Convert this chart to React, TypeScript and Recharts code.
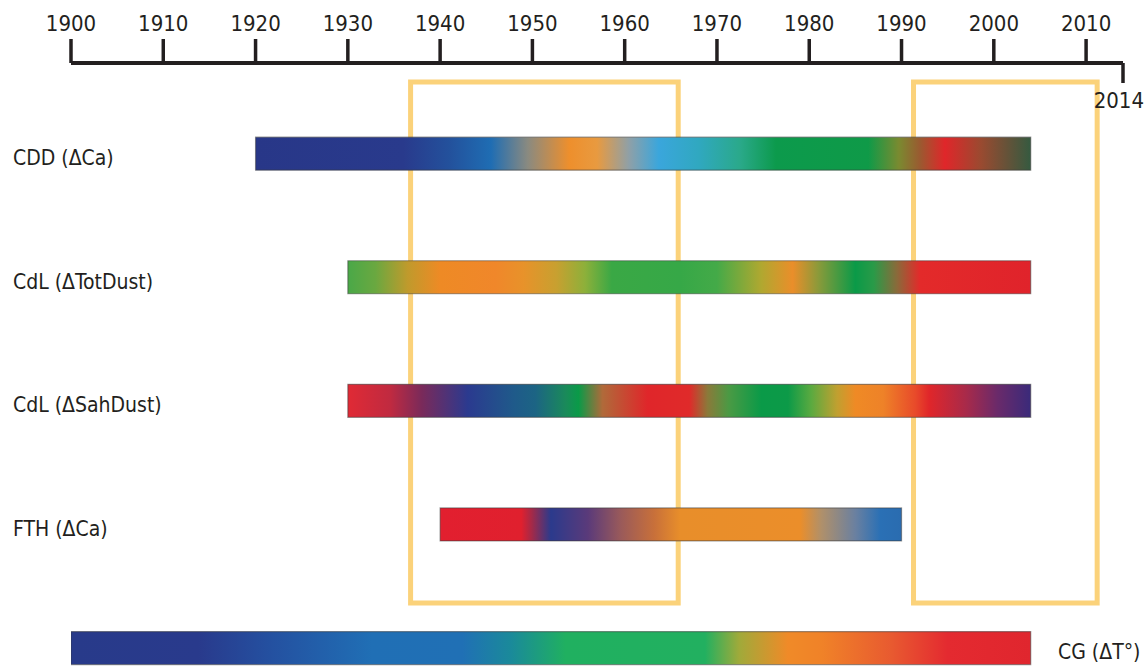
import React from 'react';
import { ComposedChart, Bar, Cell, XAxis, YAxis, ReferenceArea } from 'recharts';

// records, top to bottom
const rowNames = ['CDD (ΔCa)', 'CdL (ΔTotDust)', 'CdL (ΔSahDust)', 'FTH (ΔCa)', 'CG (ΔT°)'];
const startYears = [1920, 1930, 1930, 1940, 1900];
const endYears = [2004, 2004, 2004, 1990, 2004];

const yearTicks = [1900, 1910, 1920, 1930, 1940, 1950, 1960, 1970, 1980, 1990, 2000, 2010, 2014];

// highlighted periods (yellow frames)
const periods: [number, number][] = [
  [1936.8, 1965.8],
  [1991.3, 2011.2],
];

// colour along each record: [year, colour]
const cddStops: [number, string][] = [
  [1920, '#283788'], [1936, '#293a8c'], [1941, '#23519c'], [1945.5, '#1f6db3'],
  [1949.5, '#8a8a80'], [1954, '#ee8f2c'], [1957, '#e89a40'], [1960.5, '#8ea0a8'],
  [1963.7, '#3aa6dc'], [1968, '#30a8c0'], [1972.5, '#2aa98a'], [1976.4, '#0c9a4c'],
  [1986.4, '#0f9a48'], [1989.7, '#7a8a30'], [1992, '#9a5a30'], [1994.7, '#e0262a'],
  [1998.6, '#9a4a30'], [2004, '#355a40'],
];
const totDustStops: [number, string][] = [
  [1930, '#4aa848'], [1933, '#6aa840'], [1936.5, '#c09a2c'], [1940, '#ee8a25'],
  [1946, '#f0872a'], [1949, '#e8922a'], [1952.6, '#c8a030'], [1955.7, '#8db03a'],
  [1958.6, '#3aa845'], [1966, '#36a847'], [1970, '#44aa48'], [1974.8, '#b0a830'],
  [1978.2, '#ea8e2a'], [1981, '#8a9a3a'], [1985, '#0a9a48'], [1987, '#2a9a48'],
  [1989.5, '#8a6a3a'], [1992, '#e32a2a'], [2004, '#e0232b'],
];
const sahDustStops: [number, string][] = [
  [1930, '#e02a35'], [1934.6, '#c02a40'], [1938, '#7a2a5a'], [1943, '#2b3a8f'],
  [1948, '#1f5a8a'], [1950.3, '#1c6484'], [1953.6, '#1a8a5a'], [1955, '#0a9a48'],
  [1957.6, '#b06a3a'], [1962.5, '#e0262a'], [1967, '#e02a2a'], [1969, '#8a7a3a'],
  [1971.3, '#4a9a44'], [1974.8, '#0a9a48'], [1977.7, '#0c9a48'], [1980.2, '#5aaa40'],
  [1983, '#c0a030'], [1985, '#ef8a25'], [1988, '#ee8228'], [1991.5, '#e84a2a'],
  [1993, '#e0262a'], [1997, '#a82a4a'], [2000.4, '#6a2a6a'], [2004, '#3a2a7a'],
];
const fthStops: [number, string][] = [
  [1940, '#e21f2f'], [1948.8, '#e0202e'], [1950, '#a02a4a'], [1952, '#2b3a8c'],
  [1956, '#5a3a7a'], [1959.6, '#9a5a5a'], [1963.2, '#c8703a'], [1966, '#e88e2a'],
  [1979, '#eb8e2a'], [1981.3, '#b0906a'], [1985, '#6a80a0'], [1987.7, '#2a70b5'],
  [1990, '#2a6cb0'],
];
const cgStops: [number, string][] = [
  [1900, '#283a8a'], [1913.8, '#293a8c'], [1921.5, '#2450a0'], [1932.6, '#206fb5'],
  [1942.4, '#2070b5'], [1947.7, '#1a8a9a'], [1953.6, '#20b060'], [1968.7, '#22b060'],
  [1972.4, '#a0aa3a'], [1977.7, '#f08a28'], [1981.4, '#f08228'], [1988.9, '#e85a30'],
  [1995, '#e42a30'], [2004, '#e0262e'],
];

const rowStops = [cddStops, totDustStops, sahDustStops, fthStops, cgStops];

const data = rowNames.map((name, i) => ({
  name,
  row: i,
  range: [startYears[i], endYears[i]],
}));

const FONT = "'DejaVu Sans Condensed', 'Liberation Sans Narrow', sans-serif";
const INK = '#231f20';

const YearTick = (props: any) => {
  const { x, y, payload } = props;
  const v = payload.value;
  if (v === 2014) {
    return (
      <g>
        <line x1={x} x2={x} y1={y} y2={y + 20} stroke={INK} strokeWidth={3.5} />
        <text x={1144} y={y + 45} textAnchor="end" fontSize={22} fontFamily={FONT} fill={INK}>
          {v}
        </text>
      </g>
    );
  }
  return (
    <g>
      <line x1={x} x2={x} y1={y} y2={y - 24} stroke={INK} strokeWidth={3.5} />
      <text x={x} y={y - 32} textAnchor="middle" fontSize={22} fontFamily={FONT} fill={INK}>
        {v}
      </text>
    </g>
  );
};

const RowLabel = (props: any) => {
  const { y, payload } = props;
  const i = payload.value;
  const last = i === rowNames.length - 1;
  return (
    <text
      x={last ? 1058 : 13}
      y={y + 4}
      textAnchor="start"
      dominantBaseline="central"
      fontSize={21}
      fontFamily={FONT}
      fill={INK}
    >
      {rowNames[i]}
    </text>
  );
};

export default function App() {
  return (
    <div style={{ position: 'absolute', left: 0, top: 0, background: '#fff' }}>
      <ComposedChart
        width={1145}
        height={668}
        data={data}
        layout="vertical"
        margin={{ top: 0, right: 22, bottom: 0, left: 70 }}
      >
        <defs>
          {rowStops.map((stops, i) => (
            <linearGradient key={i} id={`grad-${i}`} x1="0" y1="0" x2="1" y2="0">
              {stops.map(([yr, c], k) => (
                <stop
                  key={k}
                  offset={(yr - startYears[i]) / (endYears[i] - startYears[i])}
                  stopColor={c}
                />
              ))}
            </linearGradient>
          ))}
        </defs>
        <XAxis
          type="number"
          orientation="top"
          domain={[1900, 2014]}
          ticks={yearTicks}
          interval={0}
          height={63}
          tickSize={0}
          tickMargin={0}
          tickLine={false}
          axisLine={{ stroke: INK, strokeWidth: 4 }}
          tick={<YearTick />}
          allowDataOverflow
        />
        <YAxis
          type="number"
          dataKey="row"
          domain={[-0.736, 4.159]}
          ticks={[0, 1, 2, 3, 4]}
          width={1}
          axisLine={false}
          tickLine={false}
          tick={<RowLabel />}
          interval={0}
          allowDataOverflow
        />
        <Bar
          dataKey="range"
          barSize={33}
          isAnimationActive={false}
          stroke="#3a3a3a"
          strokeOpacity={0.5}
          strokeWidth={1.2}
        >
          {data.map((d, i) => (
            <Cell key={d.name} fill={`url(#grad-${i})`} />
          ))}
        </Bar>
        {periods.map(([a, b], i) => (
          <ReferenceArea
            key={i}
            x1={a}
            x2={b}
            y1={-0.583}
            y2={3.633}
            fill="none"
            fillOpacity={0}
            stroke="#fbd27a"
            strokeWidth={5}
            ifOverflow="visible"
          />
        ))}
      </ComposedChart>
    </div>
  );
}
